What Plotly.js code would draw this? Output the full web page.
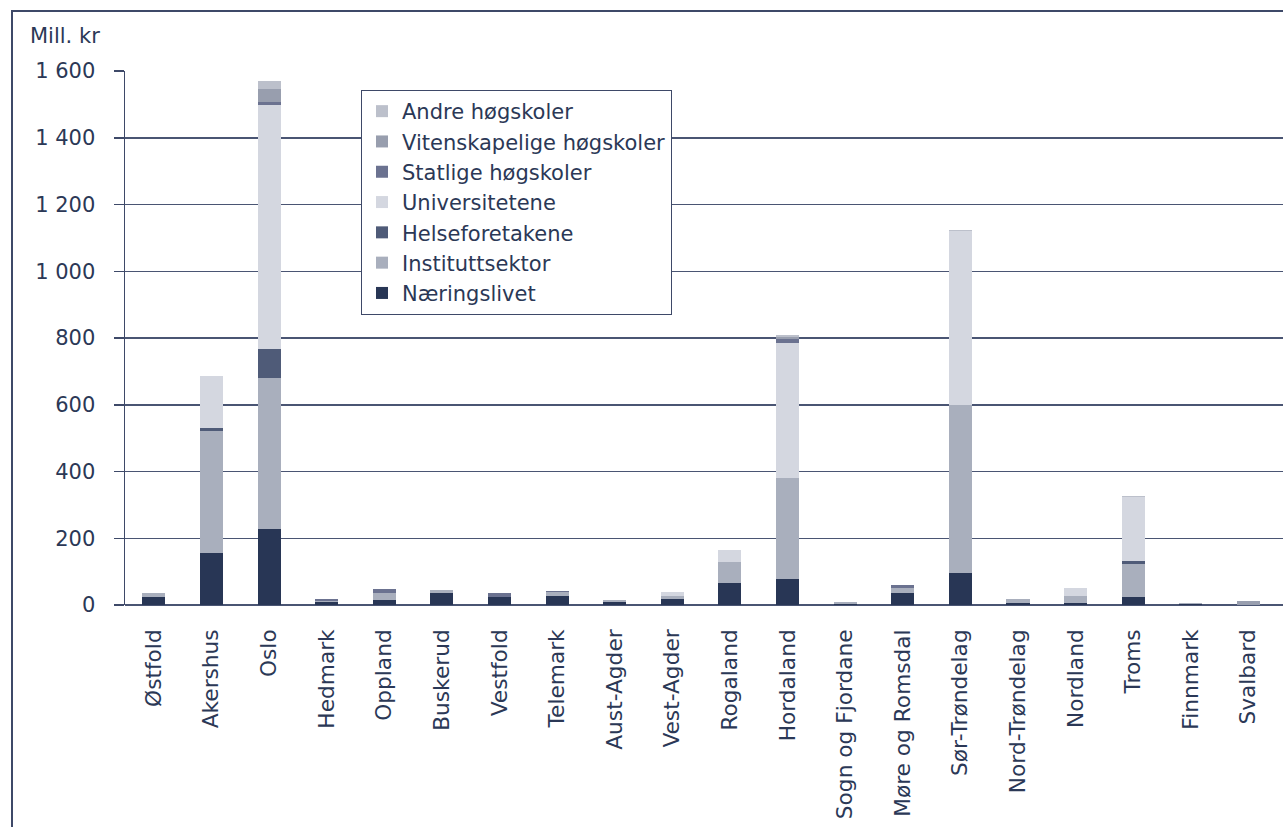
<!DOCTYPE html>
<html>
<head>
<meta charset="utf-8">
<script src="https://cdn.plot.ly/plotly-3.0.1.min.js"></script>
<style>
  html, body { margin: 0; padding: 0; overflow: hidden; background: #fff; }
  #chart { width: 1283px; height: 827px; }
  #frame { position: absolute; left: 11px; top: 10px; width: 2000px; height: 2000px;
           border-top: 2px solid #3e4968; border-left: 2px solid #3e4968; pointer-events: none; }
</style>
</head>
<body>
<div id="chart"></div>
<div id="frame"></div>
<script>
const categories = ["Østfold", "Akershus", "Oslo", "Hedmark", "Oppland", "Buskerud", "Vestfold",
  "Telemark", "Aust-Agder", "Vest-Agder", "Rogaland", "Hordaland", "Sogn og Fjordane",
  "Møre og Romsdal", "Sør-Trøndelag", "Nord-Trøndelag", "Nordland", "Troms", "Finnmark", "Svalbard"];

const naeringslivet   = [25, 157, 228, 8, 15, 37, 25, 28, 10, 18, 67, 79, 4, 37, 96, 7, 6, 24, 3, 0];
const instituttsektor = [11, 365, 453, 4, 22, 7, 0, 10, 4, 9, 61, 301, 4, 15, 503, 11, 21, 99, 2, 0];
const helseforetakene = [0, 8, 86, 0, 0, 0, 0, 0, 0, 0, 0, 0, 0, 0, 0, 0, 0, 10, 0, 0];
const universitetene  = [0, 155, 730, 0, 0, 0, 0, 0, 0, 13, 37, 404, 0, 0, 521, 0, 25, 192, 0, 0];
const statlige        = [0, 0, 11, 6, 10, 0, 11, 4, 0, 0, 0, 12, 0, 8, 0, 0, 0, 0, 0, 0];
const vitenskapelige  = [0, 0, 37, 0, 0, 0, 0, 0, 0, 0, 0, 8, 0, 0, 0, 0, 0, 0, 0, 12];
const andre           = [0, 2, 25, 0, 0, 0, 0, 0, 0, 0, 0, 4, 0, 0, 3, 0, 0, 2, 0, 0];

const seriesNames = ["Næringslivet", "Instituttsektor", "Helseforetakene", "Universitetene",
  "Statlige høgskoler", "Vitenskapelige høgskoler", "Andre høgskoler"];
const seriesValues = [naeringslivet, instituttsektor, helseforetakene, universitetene,
  statlige, vitenskapelige, andre];
const seriesColors = ["#283655", "#a9afbd", "#4f5b78", "#d4d7e0", "#6b7290", "#989eae", "#bcc0cb"];

const yTickVals = [0, 200, 400, 600, 800, 1000, 1200, 1400, 1600];
const yTickText = ["0", "200", "400", "600", "800", "1 000", "1 200", "1 400", "1 600"];

const textColor = "#2b3856";
const fontFamily = "DejaVu Sans, Verdana, sans-serif";
const fs = 21;

const traces = seriesNames.map((name, i) => ({
  type: "bar",
  name: name,
  x: categories,
  y: seriesValues[i],
  marker: { color: seriesColors[i], line: { width: 0 } },
  hoverinfo: "skip"
}));

const layout = {
  width: 1283,
  height: 827,
  margin: { l: 125, r: 0, t: 71, b: 222 },
  paper_bgcolor: "rgba(0,0,0,0)",
  plot_bgcolor: "rgba(0,0,0,0)",
  barmode: "stack",
  bargap: 0.6,
  font: { family: fontFamily, size: fs, color: textColor },
  showlegend: true,
  legend: {
    x: (361 - 125) / 1158,
    y: 1 - (90 - 71) / 534,
    xanchor: "left",
    yanchor: "top",
    traceorder: "reversed",
    bgcolor: "#ffffff",
    bordercolor: "#3e4968",
    borderwidth: 1,
    font: { family: fontFamily, size: fs, color: textColor },
    itemwidth: 30
  },
  xaxis: {
    type: "category",
    range: [-0.5, 19.6],
    tickangle: -90,
    ticks: "",
    showgrid: false,
    showline: false,
    zeroline: false,
    ticklabelstandoff: 19,
    tickfont: { family: fontFamily, size: 21.7, color: textColor }
  },
  yaxis: {
    range: [0, 1600],
    tickvals: yTickVals,
    ticktext: yTickText,
    ticks: "outside",
    ticklen: 10,
    tickwidth: 1.5,
    tickcolor: "#3e4968",
    showline: true,
    linecolor: "#3e4968",
    linewidth: 1.5,
    showgrid: true,
    gridcolor: "#4a5573",
    gridwidth: 1.5,
    zeroline: true,
    zerolinecolor: "#4a5573",
    zerolinewidth: 1.5,
    ticklabelstandoff: 14,
    tickfont: { family: fontFamily, size: fs, color: textColor }
  },
  annotations: [{
    text: "Mill. kr",
    xref: "paper", yref: "paper",
    x: -(125 - 28) / 1158, y: 1 + (71 - 36) / 534,
    xanchor: "left", yanchor: "middle",
    showarrow: false,
    font: { family: fontFamily, size: fs, color: textColor }
  }]
};

Plotly.newPlot("chart", traces, layout, { displayModeBar: false, staticPlot: true });
</script>
</body>
</html>
